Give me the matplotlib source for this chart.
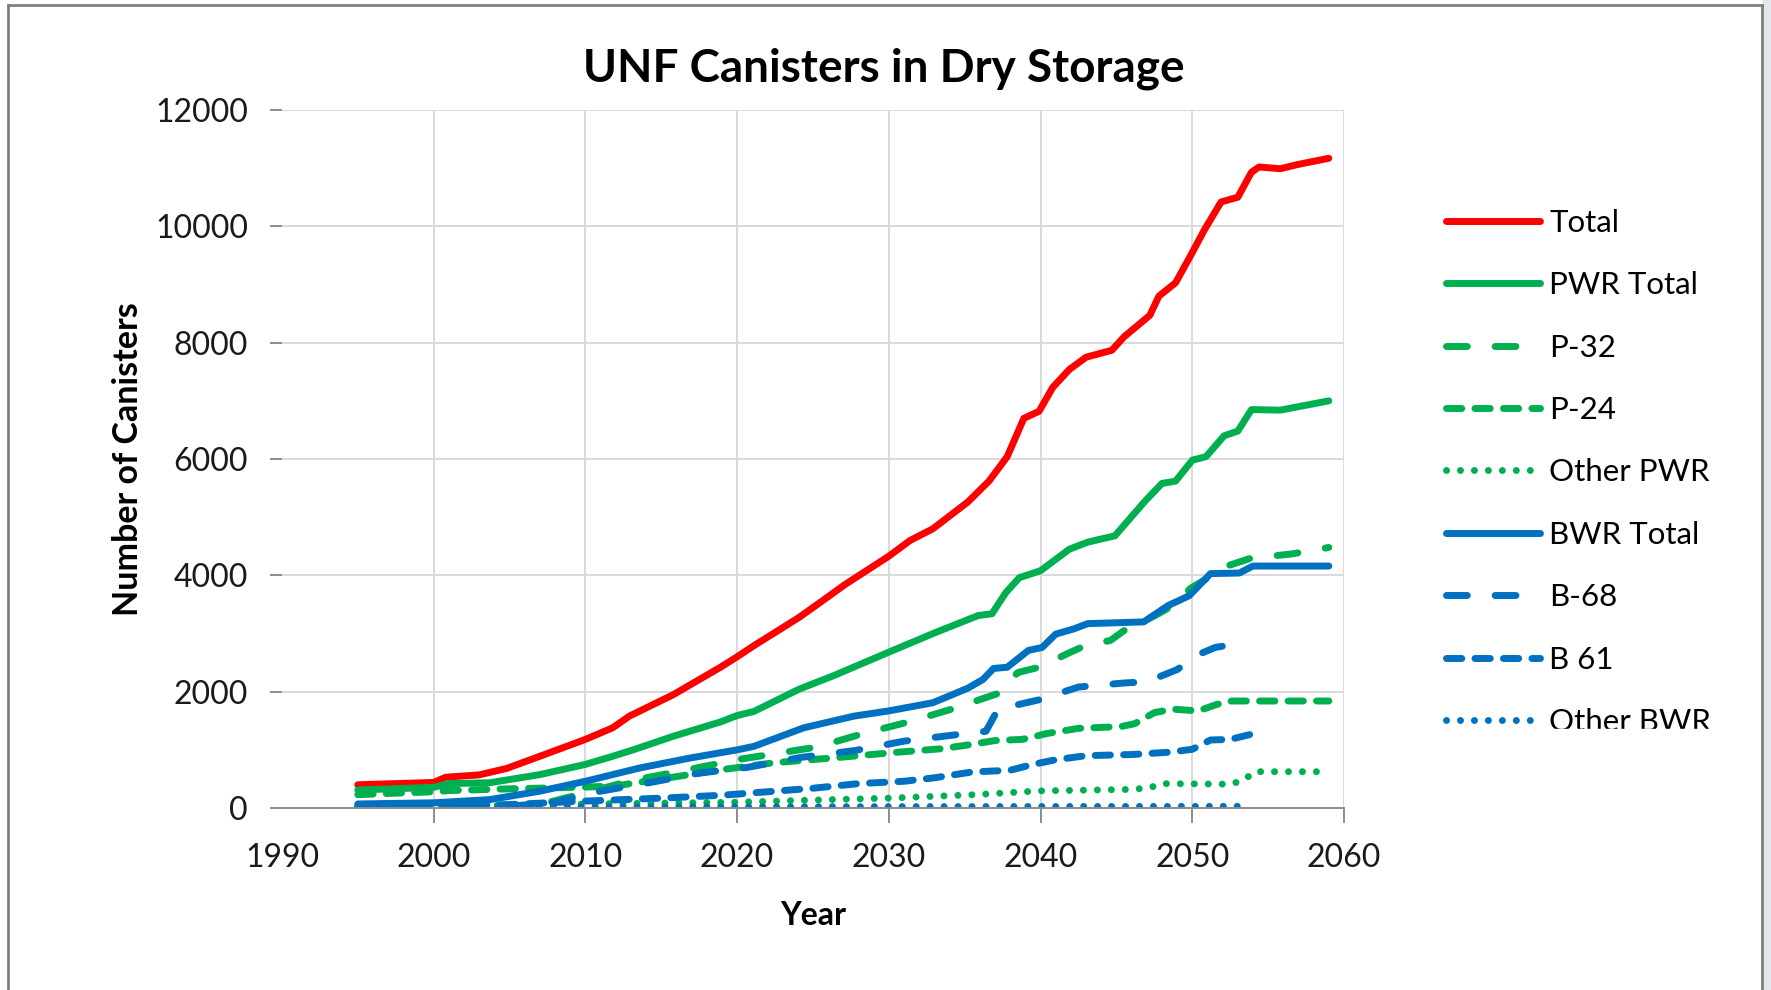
import matplotlib.pyplot as plt
from matplotlib.lines import Line2D
from matplotlib.patches import Rectangle

plt.rcParams['font.family'] = ['Lato', 'DejaVu Sans']

# --- data (year, canisters) ---
total_years = [1995, 2000, 2000.8, 2003, 2004.8, 2007, 2010, 2011.8, 2012.9, 2015.8, 2018.9, 2020,
               2021.1, 2024.1, 2025.5, 2027.1, 2030, 2031.4, 2032.9, 2035.2, 2036.6, 2037.8, 2038.9,
               2039.9, 2040.8, 2041.9, 2043, 2044.7, 2045.5, 2047.2, 2047.8, 2048.9, 2050, 2050.8,
               2051.9, 2053, 2053.9, 2054.4, 2055.8, 2056.9, 2059]
total_vals = [400, 440, 530, 570, 680, 890, 1180, 1380, 1580, 1950, 2420, 2600,
              2790, 3280, 3540, 3840, 4330, 4600, 4800, 5260, 5620, 6040, 6700,
              6820, 7230, 7540, 7750, 7870, 8100, 8470, 8800, 9030, 9550, 9940,
              10420, 10500, 10930, 11020, 10990, 11060, 11170]

pwr_years = [1995, 2000, 2001, 2003.7, 2007, 2010, 2011.8, 2013.2, 2015.8, 2018.9, 2020, 2021.1,
             2024.1, 2026.4, 2030, 2033.1, 2035.9, 2036.8, 2037.7, 2038.6, 2040, 2041.9, 2043.1,
             2044.9, 2046.9, 2048, 2048.9, 2050, 2050.9, 2052.1, 2053, 2053.9, 2055.8, 2059]
pwr_vals = [310, 355, 420, 435, 575, 750, 890, 1005, 1235, 1480, 1590, 1660,
            2045, 2280, 2680, 3020, 3310, 3340, 3700, 3960, 4080, 4450, 4570,
            4680, 5280, 5580, 5620, 5980, 6040, 6400, 6480, 6850, 6840, 7000]

p32_years = [1995, 2004, 2007, 2010, 2013, 2016, 2020.2, 2025.3, 2028.3, 2031.3, 2034.4, 2036.4,
             2037.1, 2038.5, 2039.9, 2041.9, 2043, 2044.6, 2045.5, 2047.1, 2047.7, 2048.7, 2049.9,
             2052.4, 2053.8, 2056.6, 2059]
p32_vals = [0, 0, 60, 260, 470, 620, 840, 1050, 1280, 1480, 1720, 1900,
            1960, 2330, 2420, 2670, 2800, 2880, 3050, 3250, 3330, 3480, 3780,
            4170, 4290, 4370, 4480]

p24_years = [1995, 2000, 2001, 2005, 2010, 2012, 2015, 2019, 2022.5, 2026.7, 2030.6, 2033.5, 2035.1,
             2037, 2038.8, 2040.4, 2042.5, 2045.3, 2046.2, 2047.5, 2048.7, 2050.4, 2051.6, 2052.6, 2059]
p24_vals = [230, 280, 300, 330, 360, 380, 500, 660, 780, 870, 960, 1020, 1080,
            1160, 1180, 1280, 1370, 1400, 1450, 1640, 1700, 1670, 1780, 1840, 1840]

opwr_years = [1995, 2005, 2010, 2020, 2024, 2030, 2035.7, 2039.9, 2046, 2047.2, 2048, 2052.5,
              2053.4, 2054.1, 2059]
opwr_vals = [40, 50, 70, 100, 130, 170, 230, 295, 320, 350, 420, 410, 480, 625, 625]

bwr_years = [1995, 2000, 2003.7, 2007, 2010, 2013.6, 2016.9, 2020, 2021.1, 2024.4, 2027.7, 2030,
             2032.9, 2035.2, 2036.2, 2036.9, 2037.8, 2039.2, 2040.1, 2041, 2042.2, 2043.1, 2046.8,
             2048.4, 2049.8, 2051.2, 2053.1, 2054, 2059]
bwr_vals = [70, 90, 145, 290, 460, 690, 860, 1000, 1060, 1380, 1580, 1670,
            1810, 2060, 2210, 2400, 2420, 2710, 2760, 2990, 3080, 3170, 3200,
            3480, 3650, 4030, 4040, 4160, 4160]

b68_years = [1995, 2005, 2008, 2011, 2014.5, 2017.5, 2020.7, 2024.2, 2027.8, 2031, 2034.1, 2036.4,
             2037.2, 2039.9, 2042.5, 2045.5, 2047, 2049, 2050.5, 2051.5, 2052.4]
b68_vals = [20, 30, 100, 290, 450, 600, 700, 870, 990, 1150, 1250, 1320,
            1700, 1860, 2080, 2150, 2170, 2380, 2650, 2760, 2800]

b61_years = [1995, 2000, 2005, 2010, 2015, 2019, 2022, 2025, 2028, 2031, 2033, 2035.5, 2038,
             2039.5, 2041, 2043, 2046, 2048.5, 2050, 2051.2, 2052.5, 2053.9]
b61_vals = [20, 30, 60, 120, 170, 220, 280, 340, 420, 460, 520, 620, 650,
            750, 830, 900, 920, 960, 1010, 1170, 1180, 1270]

obwr_years = [1995, 2010, 2053.8]
obwr_vals = [10, 20, 30]

red = '#FF0000'
green = '#00B050'
blue = '#0070C0'
lw = 5.0
long_dash = (3.0, 4.0)
short_dash = (2.2, 1.9)
dots = (0.01, 2.0)

fig = plt.figure(figsize=(17.71, 9.90), dpi=100)
ax = fig.add_axes([0.1592, 0.1838, 0.5997, 0.7051])

series = [
    (total_years, total_vals, red, None, 'Total'),
    (pwr_years, pwr_vals, green, None, 'PWR Total'),
    (p32_years, p32_vals, green, long_dash, 'P-32'),
    (p24_years, p24_vals, green, short_dash, 'P-24'),
    (opwr_years, opwr_vals, green, dots, 'Other PWR'),
    (bwr_years, bwr_vals, blue, None, 'BWR Total'),
    (b68_years, b68_vals, blue, long_dash, 'B-68'),
    (b61_years, b61_vals, blue, short_dash, 'B 61'),
    (obwr_years, obwr_vals, blue, dots, 'Other BWR'),
]
for xs, ys, col, dash, name in series:
    line, = ax.plot(xs, ys, color=col, lw=lw, label=name,
                    solid_capstyle='round', dash_capstyle='round',
                    solid_joinstyle='round', dash_joinstyle='round')
    if dash is not None:
        line.set_dashes(dash)

ax.set_xlim(1990, 2060)
ax.set_ylim(0, 12000)
ax.set_xticks(range(1990, 2061, 10))
ax.set_yticks(range(0, 12001, 2000))

# gridlines (no line at 1990)
for yv in range(2000, 12001, 2000):
    ax.axhline(yv, color='#D9D9D9', lw=1.4, zorder=0)
for xv in range(2000, 2061, 10):
    ax.axvline(xv, color='#D9D9D9', lw=1.4, zorder=0)

for s in ['top', 'right', 'left']:
    ax.spines[s].set_visible(False)
ax.spines['bottom'].set_color('#8C8C8C')
ax.spines['bottom'].set_linewidth(1.4)
ax.tick_params(axis='x', direction='out', length=11, width=1.4, color='#8C8C8C',
               labelsize=23, labelcolor='#1a1a1a', pad=14)
ax.tick_params(axis='y', direction='out', length=8.5, width=1.4, color='#8C8C8C',
               labelsize=23, labelcolor='#1a1a1a', pad=16)
ax.xaxis.get_major_ticks()[0].tick1line.set_visible(False)

ax.set_xlabel('Year', fontsize=23, fontweight='bold', labelpad=20)
ax.set_ylabel('Number of Canisters', fontsize=24.5, fontweight='bold', labelpad=8)
fig.text(0.499, 0.931, 'UNF Canisters in Dry Storage', fontsize=33, fontweight='bold',
         ha='center', va='center')

fig.legend(loc='upper left', bbox_to_anchor=(0.8165, 0.789), frameon=False,
           fontsize=22.5, handlelength=3.0, handletextpad=0.3, labelspacing=1.1,
           borderpad=0, borderaxespad=0)

# chart frame as in the screenshot
fig.add_artist(Line2D([0.0045, 0.9949], [0.995, 0.995], transform=fig.transFigure,
                      color='#808080', lw=2))
fig.add_artist(Line2D([0.0045, 0.0045], [0, 0.995], transform=fig.transFigure,
                      color='#808080', lw=2))
fig.add_artist(Line2D([0.9949, 0.9949], [0, 0.995], transform=fig.transFigure,
                      color='#808080', lw=2))
fig.add_artist(Rectangle((0.9955, 0), 0.0045, 1, transform=fig.transFigure,
                         color='#E4E7EC', zorder=0))
# legend is cut off at the bottom in the original
fig.add_artist(Rectangle((0.86, 0.233), 0.13, 0.031, transform=fig.transFigure,
                         color='white', zorder=10))

fig.savefig('out.png', dpi=100)
